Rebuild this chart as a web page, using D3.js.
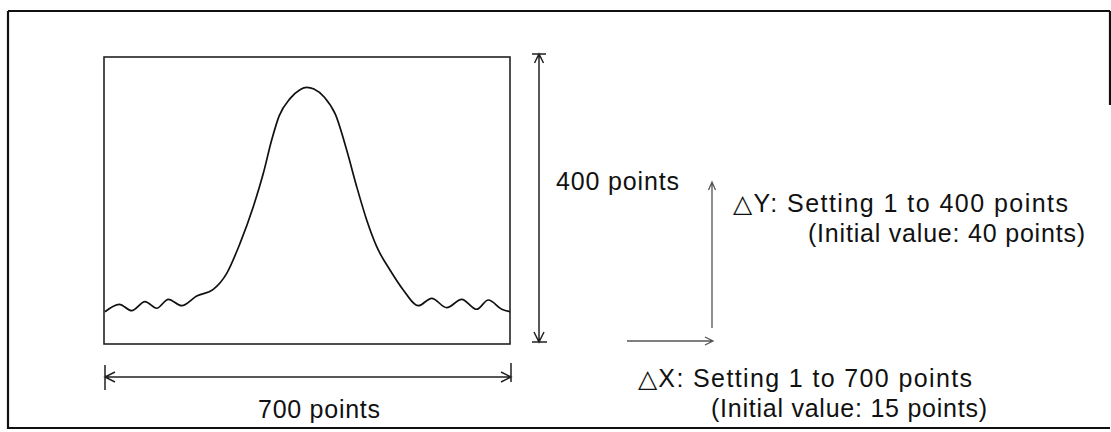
<!DOCTYPE html>
<html>
<head>
<meta charset="utf-8">
<script src="https://cdn.jsdelivr.net/npm/d3@7"></script>
<style>
  html, body { margin: 0; padding: 0; background: #fff; }
  svg { display: block; }
  text { font-family: "Liberation Sans", Arial, Helvetica, sans-serif; fill: #111; }
</style>
</head>
<body>
<svg id="chart" width="1111" height="432"></svg>
<script>
// ---- data ----
const curveX = [1.7, 26.4, 47.8, 70.7, 90.9, 110.9, 134.0, 159.8, 188.4, 211.6, 234.5, 257.4,
  274.7, 289.1, 302.0, 320.7, 337.9, 349.5, 362.0, 380.0, 399.0, 418.4, 435.7, 452.9,
  470.2, 493.1, 516.0, 541.9, 565.0, 590.9, 616.7, 642.6, 662.6, 685.7, 700];
const curveY = [45.0, 55.3, 46.4, 59.0, 49.8, 62.3, 53.4, 66.9, 76.2, 98.5, 140.3, 191.4,
  237.9, 284.3, 318.0, 342.0, 354.5, 357.8, 355.5, 344.0, 320.0, 270.4, 219.2, 172.8,
  135.6, 103.1, 75.3, 53.4, 63.7, 50.6, 62.3, 48.4, 61.3, 48.4, 45.0];
const xDomain = [0, 700];
const yDomain = [0, 400];
const xSpanLabel = "700 points";
const ySpanLabel = "400 points";
const deltaYLines = ["\u25B3Y: Setting 1 to 400 points", "(Initial value: 40 points)"];
const deltaXLines = ["\u25B3X: Setting 1 to 700 points", "(Initial value: 15 points)"];

// ---- layout ----
const svg = d3.select("#chart");
const x = d3.scaleLinear().domain(xDomain).range([104, 510]);
const y = d3.scaleLinear().domain(yDomain).range([344, 57]);

// outer frame (right edge only partially visible in the scan)
const frame = svg.append("g").attr("stroke", "#111").attr("stroke-width", 2.2).attr("fill", "none");
frame.append("path").attr("d", "M8,11 H1110 M8,11 V428 H1110 M1110,11 V105");

// plot box
svg.append("rect")
  .attr("x", x(0)).attr("y", y(400))
  .attr("width", x(700) - x(0)).attr("height", y(0) - y(400))
  .attr("fill", "none").attr("stroke", "#222").attr("stroke-width", 1.6);

// curve
const pts = curveX.map((v, i) => [v, curveY[i]]);
const line = d3.line().x(d => x(d[0])).y(d => y(d[1])).curve(d3.curveMonotoneX);
svg.append("path").datum(pts)
  .attr("d", line)
  .attr("fill", "none").attr("stroke", "#111").attr("stroke-width", 1.7);

// dimension arrows
const dim = svg.append("g").attr("fill", "none").attr("stroke", "#222").attr("stroke-width", 1.5);

// vertical 400-point dimension
const vx = 539, vTop = y(400) - 3, vBot = y(0) - 2;
dim.append("path").attr("d",
  `M${vx},${vTop} V${vBot}` +
  `M${vx - 7},${vTop} H${vx + 7}` +
  `M${vx - 4.5},${vTop + 9} L${vx},${vTop} L${vx + 4.5},${vTop + 9}` +
  `M${vx - 7},${vBot} H${vx + 8}` +
  `M${vx - 5},${vBot - 10} L${vx},${vBot} L${vx + 5},${vBot - 10}`);

// horizontal 700-point dimension
const hy = 377, hL = x(0) + 1, hR = x(700) + 1;
dim.append("path").attr("d",
  `M${hL},${hy} H${hR}` +
  `M${hL},${hy - 12} V${hy + 13}` +
  `M${hR},${hy - 14} V${hy + 5}` +
  `M${hL + 10},${hy - 5} L${hL},${hy} L${hL + 10},${hy + 5}` +
  `M${hR - 10},${hy - 5} L${hR},${hy} L${hR - 10},${hy + 5}`);

// delta illustration arrows (lighter)
const da = svg.append("g").attr("fill", "none").attr("stroke", "#555").attr("stroke-width", 1.3);
da.append("path").attr("d", "M712,328 V182 M708.5,190 L712,182 L715.5,190");
da.append("path").attr("d", "M627,341 H713 M705,337 L713,341 L705,345");

// texts
function label(str, tx, ty, len) {
  svg.append("text")
    .attr("x", tx).attr("y", ty)
    .attr("font-size", 25)
    .attr("textLength", len).attr("lengthAdjust", "spacing")
    .text(str);
}
label(xSpanLabel, 258, 418, 122);
label(ySpanLabel, 556, 190, 123);
label(deltaYLines[0], 733, 212, 335);
label(deltaYLines[1], 808, 242, 277);
label(deltaXLines[0], 638, 387, 334);
label(deltaXLines[1], 711, 417, 276);
</script>
</body>
</html>
